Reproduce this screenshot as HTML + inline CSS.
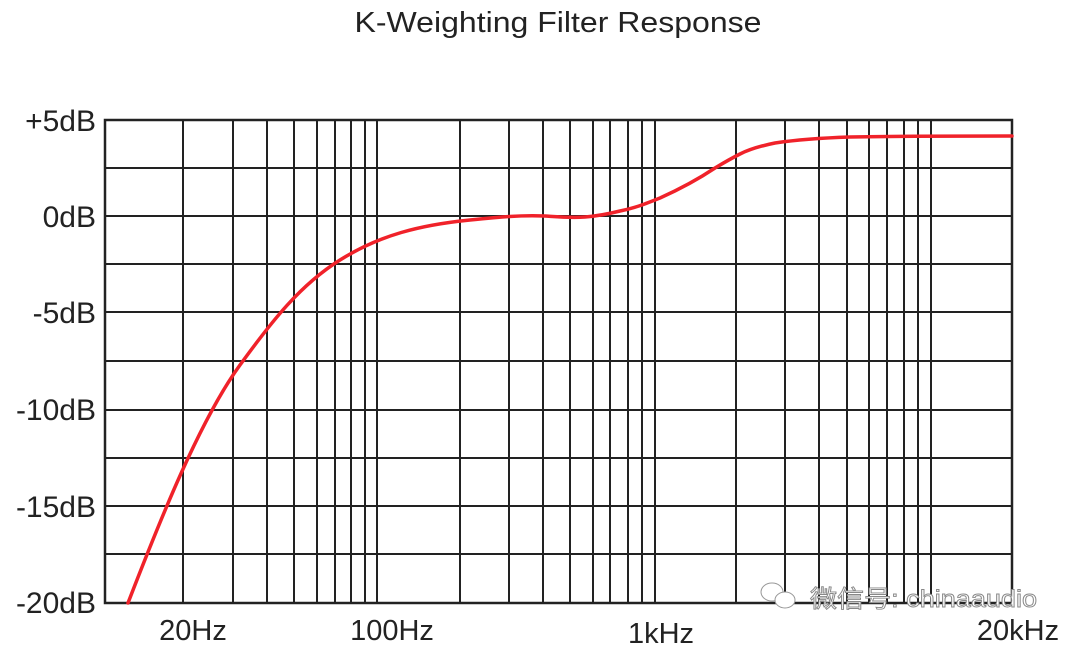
<!DOCTYPE html>
<html><head><meta charset="utf-8"><style>
html,body{margin:0;padding:0;background:#fff;}
svg{display:block;}
</style></head><body>
<svg width="1072" height="645" viewBox="0 0 1072 645" xmlns="http://www.w3.org/2000/svg" font-family="Liberation Sans, Arial, sans-serif">
<rect width="1072" height="645" fill="#fff"/>
<text x="558" y="32" font-size="29" text-anchor="middle" fill="#222" textLength="407" lengthAdjust="spacingAndGlyphs">K-Weighting Filter Response</text>
<g stroke="#222" stroke-width="2" fill="none">
<path d="M105 168H1012M105 216H1012M105 264H1012M105 312H1012M105 361H1012M105 410H1012M105 458H1012M105 506H1012M105 554H1012"/>
<path d="M183 120V603M233 120V603M267 120V603M294 120V603M317 120V603M335 120V603M351 120V603M365 120V603M377 120V603M460 120V603M509 120V603M543 120V603M570 120V603M593 120V603M610 120V603M628 120V603M642 120V603M655 120V603M736 120V603M785 120V603M819 120V603M847 120V603M869 120V603M887 120V603M904 120V603M918 120V603M931 120V603"/>
<rect x="105" y="120" width="907" height="483" stroke-width="2.5"/>
</g>
<g font-size="30" fill="#222" text-anchor="end">
<text x="96" y="131">+5dB</text>
<text x="96" y="227">0dB</text>
<text x="96" y="323">-5dB</text>
<text x="96" y="420">-10dB</text>
<text x="96" y="517">-15dB</text>
<text x="96" y="613">-20dB</text>
</g>
<g font-size="29" fill="#222" text-anchor="middle">
<text x="193" y="640">20Hz</text>
<text x="392" y="640">100Hz</text>
<text x="661" y="643">1kHz</text>
<text x="1018" y="640">20kHz</text>
</g>
<path d="M128 603 C160 520 200 420 240 365 C272 321 300 285 340 260 C380 235 420 225 470 220 C500 217 520 215 545 216 C560 217 570 218 585 217 C598 216 608 214 620 211 C635 208 645 204 660 198 C680 189 700 178 715 168 C725 162 732 158 740 154 C750 149 760 146 775 143 C795 140 820 138 850 137 C900 136 960 136 1012 136" stroke="#f0222a" stroke-width="3.5" fill="none" stroke-linecap="round"/>
<g fill="#fff" stroke="#999" stroke-width="1">
<ellipse cx="772" cy="592" rx="11" ry="9"/>
<ellipse cx="785" cy="600" rx="10" ry="8"/>
</g>
<text x="810" y="607" font-size="24" fill="#fff" stroke="#888" stroke-width="0.9" font-family="Liberation Sans, Noto Sans CJK SC, sans-serif" textLength="227" lengthAdjust="spacingAndGlyphs">微信号: chinaaudio</text>
</svg>
</body></html>
